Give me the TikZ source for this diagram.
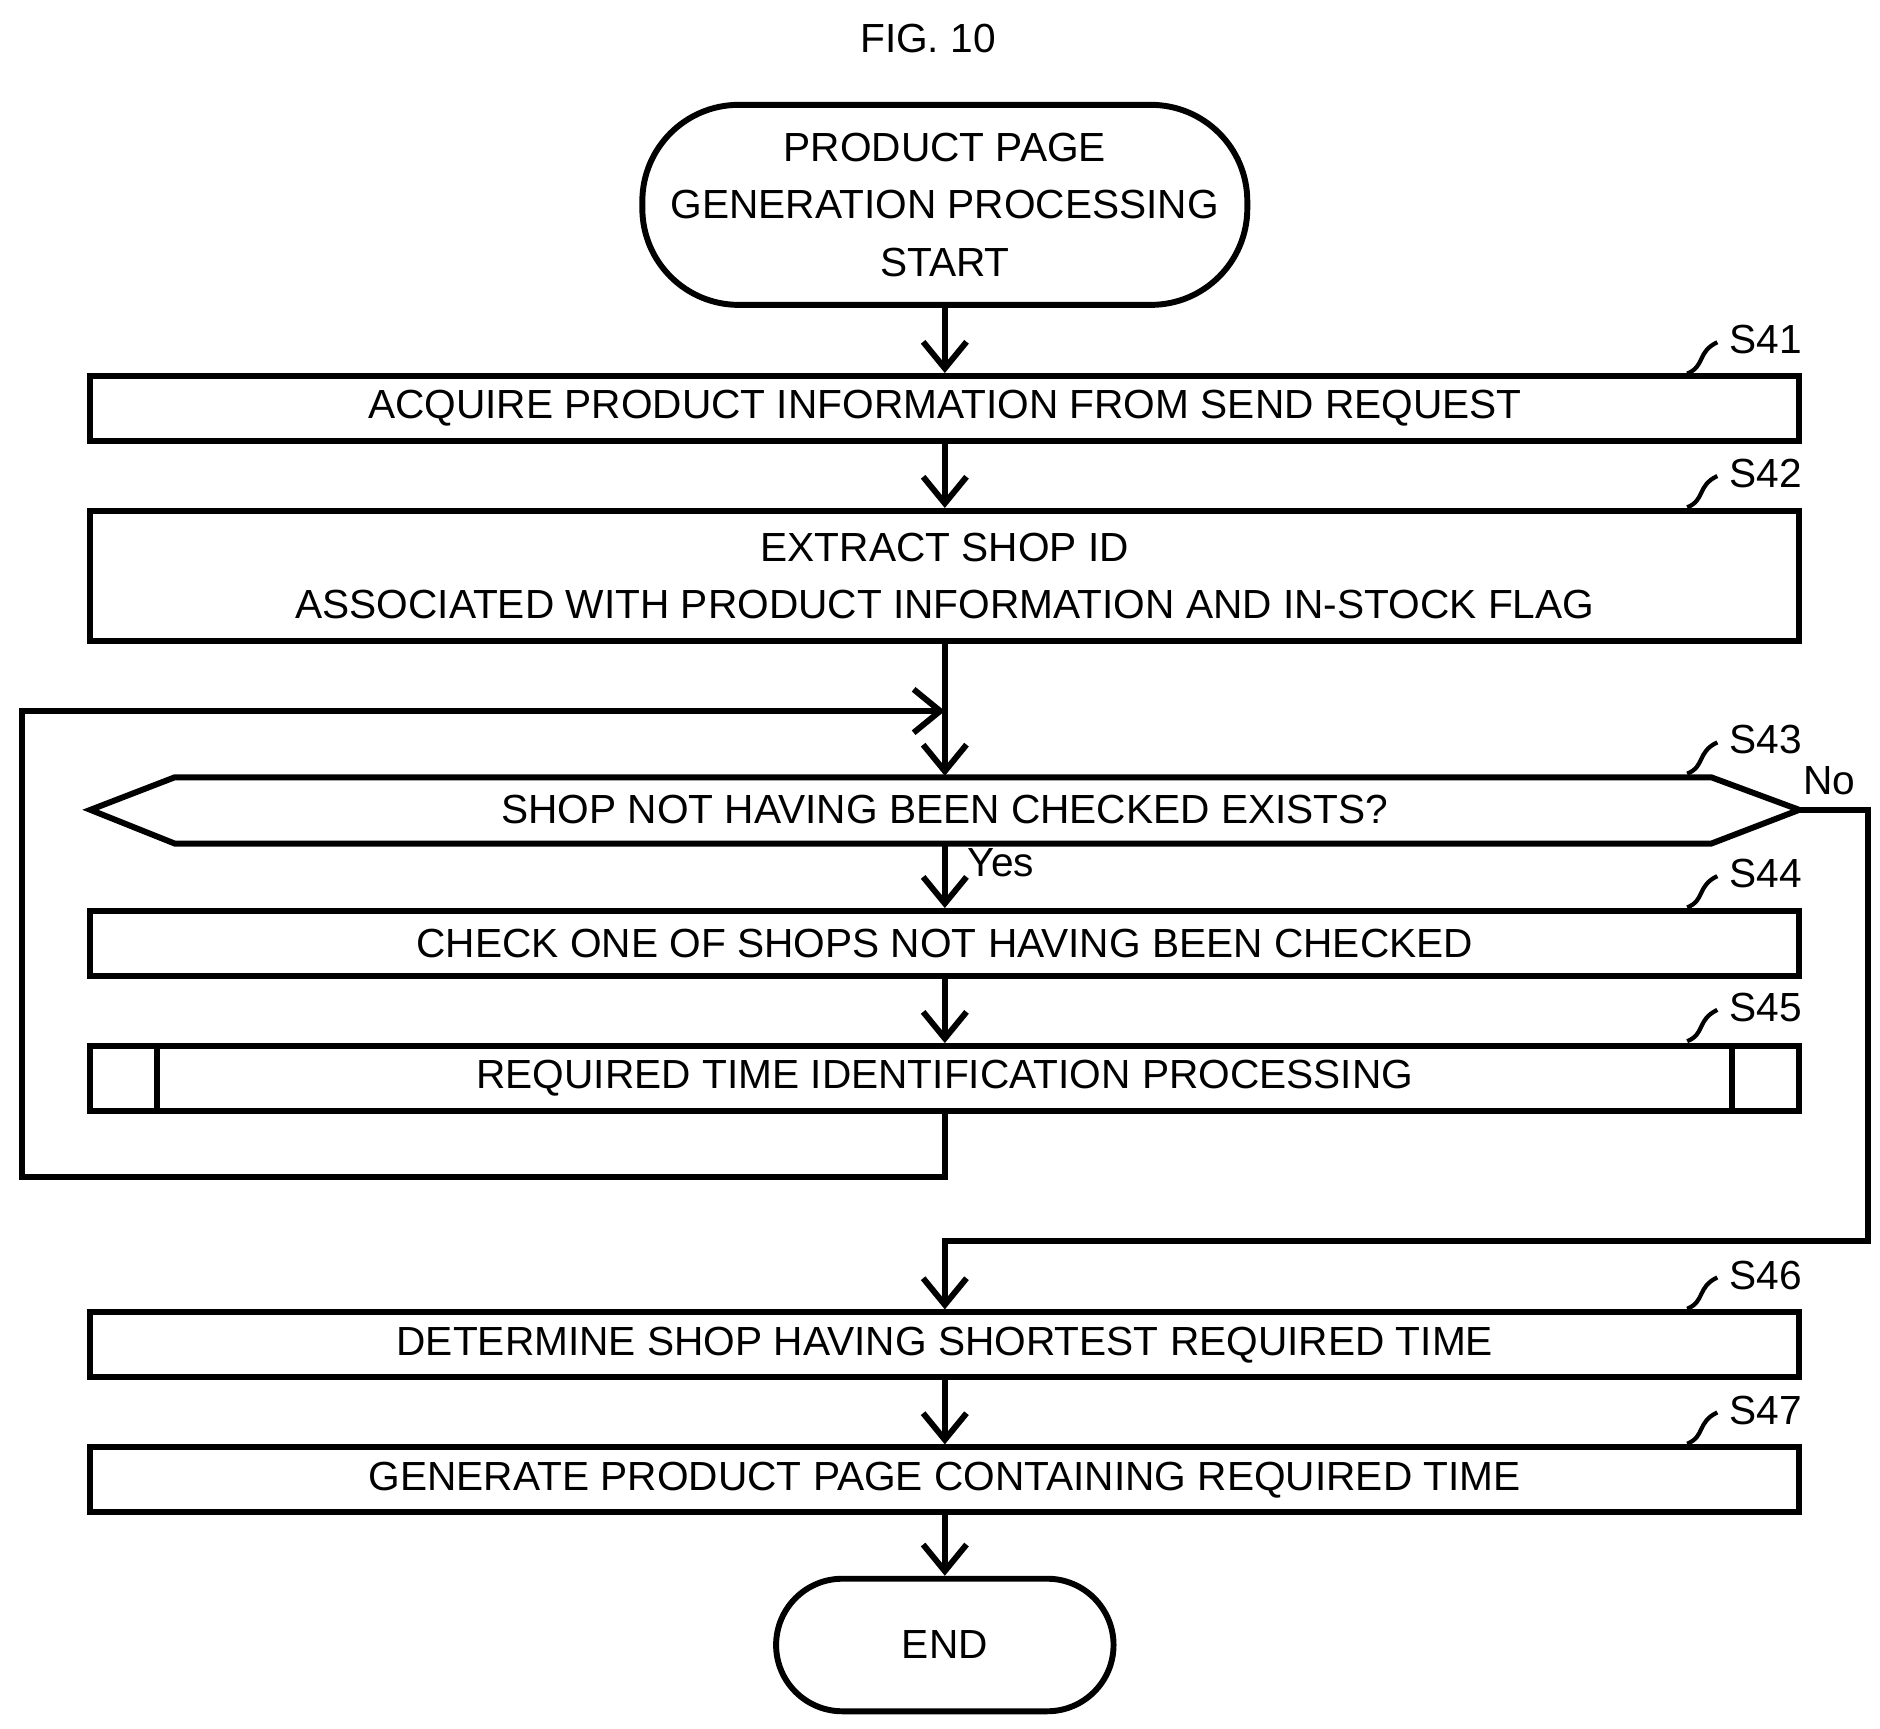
\documentclass[tikz,border=0pt]{standalone}
\usepackage{fontspec}
\setmainfont{Liberation Sans}
\usetikzlibrary{arrows.meta}
\begin{document}
\begin{tikzpicture}[x=0.1mm,y=-0.1mm,
  every node/.style={font=\fontsize{9.6}{13.5}\selectfont},
  box/.style={draw,line width=1.4pt,minimum width=141.8mm,minimum height=5.4mm,inner sep=0pt,align=center},
  term/.style={draw,line width=1.4pt,rounded corners=8mm,align=center,inner sep=0pt},
  arr/.style={line width=1.4pt,-{Straight Barb[length=2.2mm,width=3.6mm]}},
  ln/.style={line width=1.4pt},
  sq/.style={line width=1pt}]
\useasboundingbox (0,0) rectangle (1560,1434);
\node (fig) at (770,32) {FIG. 10};
\node[term,minimum width=50.2mm,minimum height=16.6mm] (start) at (784,170) {PRODUCT PAGE\\GENERATION PROCESSING\\START};
\node[box] (s41) at (784,339) {ACQUIRE PRODUCT INFORMATION FROM SEND REQUEST};
\node[box,minimum height=10.8mm] (s42) at (784,478) {EXTRACT SHOP ID\\ASSOCIATED WITH PRODUCT INFORMATION AND IN-STOCK FLAG};
\node[minimum width=141.8mm,minimum height=5.5mm,inner sep=0pt] (s43) at (784,672) {SHOP NOT HAVING BEEN CHECKED EXISTS?};
\draw[ln] (75,672) -- (145,645) -- (1420,645) -- (1493,672) -- (1420,700) -- (145,700) -- cycle;
\node[box] (s44) at (784,783) {CHECK ONE OF SHOPS NOT HAVING BEEN CHECKED};
\node[box] (s45) at (784,895) {REQUIRED TIME IDENTIFICATION PROCESSING};
\draw[ln] (130,868) -- (130,922) (1437,868) -- (1437,922);
\node[box] (s46) at (784,1116) {DETERMINE SHOP HAVING SHORTEST REQUIRED TIME};
\node[box] (s47) at (784,1228) {GENERATE PRODUCT PAGE CONTAINING REQUIRED TIME};
\node[term,minimum width=28mm,minimum height=11mm,rounded corners=5.5mm] (end) at (784,1365) {END};
\coordinate (m) at (784,590);
\draw[arr] (start) -- (s41);
\draw[arr] (s41) -- (s42);
\draw[arr] (s42) -- (s43.north);
\draw[arr] (s43.south) -- (s44) node[pos=0.3,right,xshift=0.5mm] {Yes};
\draw[arr] (s44) -- (s45);
\draw[arr] (s45.south) -- (784,977) -- (18,977) -- (18,590) -- (m);
\draw[arr] (1493,672) -- (1550,672) -- (1550,1030) -- (784,1030) -- (s46.north);
\node at (1518,648) {No};
\draw[arr] (s46) -- (s47);
\draw[arr] (s47) -- (end);
\foreach \n/\y/\t in {a/282/S41,b/393/S42,c/614/S43,d/725/S44,e/836/S45,f/1058/S46,g/1170/S47}{
  \node (l\n) at (1465,\y) {\t};
  \draw[sq] (1400,\y+28) .. controls (1415,\y+22) and (1408,\y+10) .. (1425,\y+2);
}
\end{tikzpicture}
\end{document}
